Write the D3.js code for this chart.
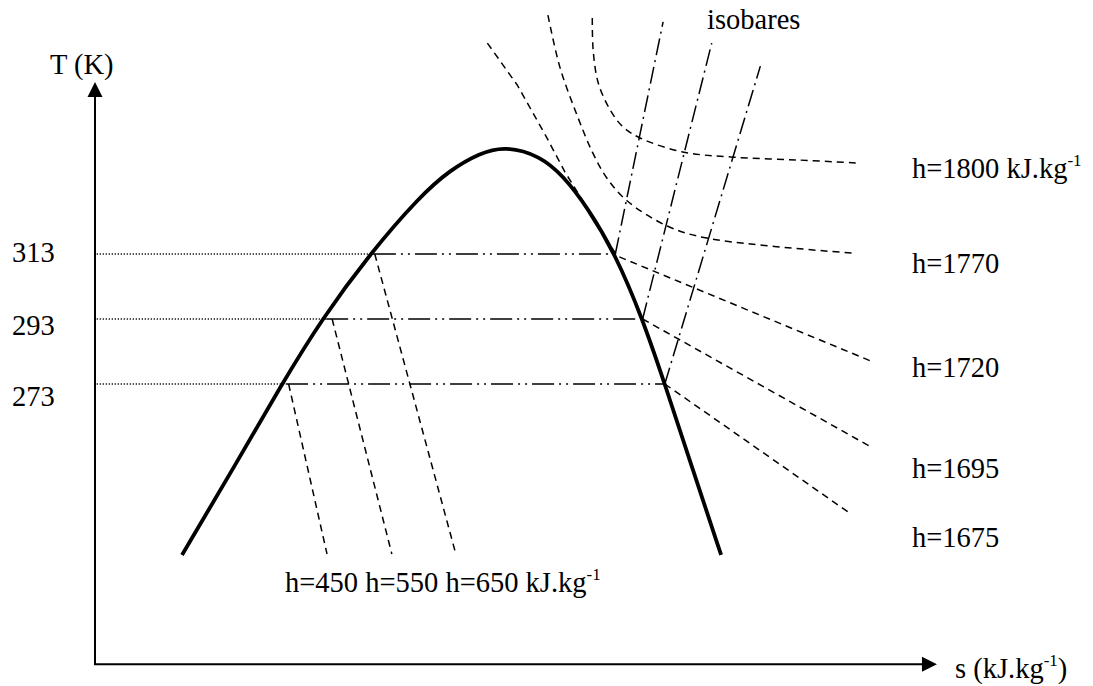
<!DOCTYPE html>
<html>
<head>
<meta charset="utf-8">
<script src="https://cdn.jsdelivr.net/npm/d3@7"></script>
<style>
  body { margin: 0; background: #fff; }
  text { font-family: "Liberation Serif", "Times New Roman", serif; font-size: 28.5px; fill: #000; }
</style>
</head>
<body>
<svg id="chart" width="1093" height="686"></svg>
<script>
// isotherms (K) with the liquid / vapour saturation entropies
const isoT = [273, 293, 313];
const sLiquid = [2.19, 2.66, 3.22];
const sVapor = [6.68, 6.42, 6.10];

// saturation dome
const domeS = [1.02, 1.61, 2.19, 2.66, 3.22, 3.81, 4.16, 4.51, 4.81, 5.22, 5.49, 5.77, 6.10, 6.42, 6.68, 7.01, 7.34];
const domeT = [220.4, 246.5, 273, 293, 313, 330.8, 338.8, 344.1, 346.2, 343.2, 337.0, 327.5, 313, 293, 273, 246.5, 220.4];

// liquid side isenthalps (kJ/kg)
const hLiquid = [450, 550, 650];
const hLiqTopS = [2.27, 2.78, 3.28];
const hLiqBotS = [2.72, 3.48, 4.23];
const hLiqBotT = 220.7;

// isobars in the vapour region (start on the vapour line of each isotherm)
const isobarTopS = [7.80, 7.23, 6.66];
const isobarTopT = [370.8, 377.9, 384.4];

// vapour side isenthalps
const hVapor = [1675, 1695, 1720, 1770, 1800];
const hVapS = [
  [6.68, 8.83],
  [6.42, 9.12],
  [4.60, 4.95, 5.28, 5.51, 5.80, 6.12, 9.12],
  [5.31, 5.45, 5.65, 5.83, 6.00, 6.24, 6.71, 7.17, 8.87],
  [5.83, 5.84, 5.90, 6.04, 6.19, 6.39, 6.89, 7.48, 8.26, 8.94]
];
const hVapT = [
  [273, 233.6],
  [293, 253.3],
  [377.9, 365.0, 349.6, 338.2, 325.9, 312.4, 279.8],
  [386.5, 370.5, 355.8, 344.4, 336.4, 329.3, 321.6, 317.9, 313.3],
  [385.6, 375.8, 365.6, 357.3, 352.1, 348.7, 344.4, 342.8, 341.9, 341.0]
];

// axis extents
const sAxisEnd = 9.87;
const tAxisMin = 186.8;
const tAxisEnd = 365.9;

const svg = d3.select('#chart');
const x = d3.scaleLinear().domain([0, 10]).range([95, 948]);
const y = d3.scaleLinear().domain([273, 313]).range([384, 254]);

const line = d3.line().x(d => x(d[0])).y(d => y(d[1]));
const smooth = d3.line().x(d => x(d[0])).y(d => y(d[1])).curve(d3.curveCatmullRom.alpha(0.5));
const domeLine = d3.line().x(d => x(d[0])).y(d => y(d[1])).curve(d3.curveBasis);

const dashed = '7,5';
const dashDotDot = '22,5,2,5,2,5';
const dashDot = '17,5,2,5';

// dotted isotherm stubs from the T axis to the liquid line
isoT.forEach((t, i) => {
  svg.append('path')
    .attr('d', line([[0.02, t], [sLiquid[i] + 0.05, t]]))
    .attr('stroke', '#000').attr('stroke-width', 1.5)
    .attr('stroke-dasharray', '1.2,1.8').attr('fill', 'none');
  // isobar inside the dome (horizontal)
  svg.append('path')
    .attr('d', line([[sLiquid[i] + 0.05, t], [sVapor[i], t]]))
    .attr('stroke', '#000').attr('stroke-width', 1.5)
    .attr('stroke-dasharray', dashDotDot).attr('fill', 'none');
  // isobar in superheated vapour
  svg.append('path')
    .attr('d', line([[sVapor[i], t], [isobarTopS[i], isobarTopT[i]]]))
    .attr('stroke', '#000').attr('stroke-width', 1.5)
    .attr('stroke-dasharray', dashDot).attr('fill', 'none');
});

// liquid isenthalps
hLiquid.forEach((h, i) => {
  svg.append('path')
    .attr('d', line([[hLiqTopS[i], isoT[i]], [hLiqBotS[i], hLiqBotT]]))
    .attr('stroke', '#000').attr('stroke-width', 1.5)
    .attr('stroke-dasharray', dashed).attr('fill', 'none');
});

// vapour isenthalps
hVapor.forEach((h, i) => {
  const pts = hVapS[i].map((s, j) => [s, hVapT[i][j]]);
  svg.append('path')
    .attr('d', (i >= 3 ? smooth : line)(pts))
    .attr('stroke', '#000').attr('stroke-width', 1.5)
    .attr('stroke-dasharray', dashed).attr('fill', 'none');
});

// saturation dome
svg.append('path')
  .attr('d', domeLine(domeS.map((s, i) => [s, domeT[i]])))
  .attr('stroke', '#000').attr('stroke-width', 3.8)
  .attr('fill', 'none');

// axes with arrow heads
const x0 = x(0), yBase = y(tAxisMin), xEnd = x(sAxisEnd), yTop = y(tAxisEnd);
svg.append('line').attr('x1', x0).attr('y1', yBase).attr('x2', x0).attr('y2', yTop + 12)
  .attr('stroke', '#000').attr('stroke-width', 2);
svg.append('line').attr('x1', x0 - 1).attr('y1', yBase).attr('x2', xEnd - 12).attr('y2', yBase)
  .attr('stroke', '#000').attr('stroke-width', 2);
svg.append('path')
  .attr('d', `M${x0},${yTop} L${x0 - 7.5},${yTop + 15} L${x0 + 7.5},${yTop + 15} Z`)
  .attr('fill', '#000');
svg.append('path')
  .attr('d', `M${xEnd},${yBase} L${xEnd - 15},${yBase - 7.5} L${xEnd - 15},${yBase + 7.5} Z`)
  .attr('fill', '#000');

// labels
function withUnit(sel, main, sup, tail) {
  sel.append('tspan').text(main);
  sel.append('tspan').attr('font-size', '17px').attr('dy', -12).text(sup);
  if (tail) sel.append('tspan').attr('dy', 12).text(tail);
}

svg.append('text').attr('x', 50).attr('y', 74).text('T (K)');
const sLab = svg.append('text').attr('x', 955).attr('y', 678);
withUnit(sLab, 's (kJ.kg', '-1', ')');

const tickOffset = [22, 16, 8];
isoT.forEach((t, i) => {
  svg.append('text').attr('x', 12).attr('y', y(t) + tickOffset[i]).text(t);
});

svg.append('text').attr('x', 707).attr('y', 29).text('isobares');

const liqLab = svg.append('text').attr('x', 285).attr('y', 592);
withUnit(liqLab, hLiquid.map(h => 'h=' + h).join(' ') + ' kJ.kg', '-1');

const rightLabelY = [547, 478, 377, 273, 178];
hVapor.forEach((h, i) => {
  const t = svg.append('text').attr('x', 912).attr('y', rightLabelY[i]);
  if (h === 1800) withUnit(t, 'h=' + h + ' kJ.kg', '-1');
  else t.text('h=' + h);
});
</script>
</body>
</html>
